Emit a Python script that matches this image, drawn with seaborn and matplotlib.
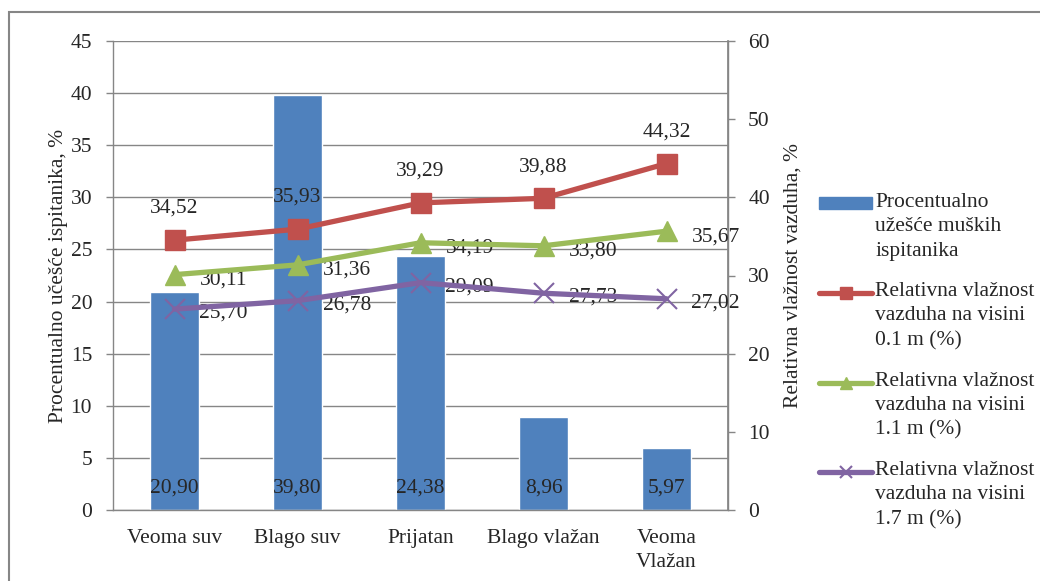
import numpy as np
import pandas as pd
import matplotlib
matplotlib.use("Agg")
import matplotlib.pyplot as plt
import seaborn as sns
from matplotlib.lines import Line2D
from matplotlib.patches import Rectangle
from matplotlib.legend_handler import HandlerLine2D, HandlerPatch
from matplotlib.transforms import Affine2D

# podaci
kategorije = ["Veoma suv", "Blago suv", "Prijatan", "Blago vlažan", "Veoma\nVlažan"]
ucesce = [20.90, 39.80, 24.38, 8.96, 5.97]
vlaz_01 = [34.52, 35.93, 39.29, 39.88, 44.32]
vlaz_11 = [30.11, 31.36, 34.19, 33.80, 35.67]
vlaz_17 = [25.70, 26.78, 29.09, 27.73, 27.02]

naziv_bar = "Procentualno\nužešće muških\nispitanika"
naziv_01 = "Relativna vlažnost\nvazduha na visini\n0.1 m (%)"
naziv_11 = "Relativna vlažnost\nvazduha na visini\n1.1 m (%)"
naziv_17 = "Relativna vlažnost\nvazduha na visini\n1.7 m (%)"

sns.set_theme(style="white")
plt.rcParams["font.family"] = ["Liberation Serif", "DejaVu Serif"]
fs = 15.5
plt.rcParams["font.size"] = fs

siva = "#868686"
plava = "#4F81BD"
crvena = "#C0504D"
zelena = "#9BBB59"
ljubicasta = "#8064A2"

# rukovaoci legende poravnati sa prvim redom teksta
POMAK = 16.6


class PomerenaLinija(HandlerLine2D):
    def create_artists(self, legend, orig_handle, xdescent, ydescent, width, height, fontsize, trans):
        t = Affine2D().translate(0, POMAK) + trans
        return super().create_artists(legend, orig_handle, xdescent, ydescent, width, height, fontsize, t)


class PomerenaPovrs(HandlerPatch):
    def create_artists(self, legend, orig_handle, xdescent, ydescent, width, height, fontsize, trans):
        t = Affine2D().translate(0, POMAK) + trans
        return super().create_artists(legend, orig_handle, xdescent, ydescent, width, height, fontsize, t)


fig = plt.figure(figsize=(10.4, 5.81), dpi=100)
ax = fig.add_axes([113 / 1040, 1 - 510 / 581, (728 - 113) / 1040, (510 - 41) / 581])

df = pd.DataFrame({"kategorija": kategorije, "ucesce": ucesce})
sns.barplot(data=df, x="kategorija", y="ucesce", color=plava, width=0.4,
            saturation=1, ax=ax, zorder=2)

ax.set_ylim(0, 45)
ax.set_yticks(np.arange(0, 46, 5))
ax.set_xlim(-0.5, 4.5)
ax.yaxis.grid(True, color=siva, linewidth=1)
ax.set_axisbelow(True)
ax.set_xlabel("")
ax.set_ylabel("Procentualno učešće ispitanika, %", fontsize=fs, labelpad=2)
ax.set_xticks(np.arange(5))
ax.set_xticklabels(kategorije, fontsize=fs, linespacing=1.3)
ax.set_xticks(np.arange(-0.5, 5, 1), minor=True)
ax.tick_params(axis="x", which="major", length=0, pad=14)
ax.tick_params(axis="x", which="minor", length=5, color=siva, width=1, direction="out")
ax.tick_params(axis="y", length=5, color=siva, width=1, direction="out", labelsize=fs,
               left=True, pad=10)
ax.spines["top"].set_visible(False)
for s in ["left", "bottom", "right"]:
    ax.spines[s].set_color(siva)
    ax.spines[s].set_linewidth(1)

for i, v in enumerate(ucesce):
    ax.annotate(f"{v:.2f}".replace(".", ","), (i, 0), xytext=(0, 16),
                textcoords="offset points", ha="center", va="center", fontsize=fs, zorder=5)

ax2 = ax.twinx()
ax2.set_ylim(0, 60)
ax2.set_yticks(np.arange(0, 61, 10))
ax2.tick_params(axis="y", length=5, color=siva, width=1, direction="out", labelsize=fs,
                right=True, pad=9.5)
for s in ["top", "left", "bottom"]:
    ax2.spines[s].set_visible(False)
ax2.spines["right"].set_color(siva)
ax2.set_ylabel("Relativna vlažnost vazduha, %", fontsize=fs, labelpad=10)

x = np.arange(len(kategorije))
ax2.plot(x, vlaz_01, color=crvena, lw=3.8, marker="s", ms=14, zorder=4)
ax2.plot(x, vlaz_11, color=zelena, lw=3.8, marker="^", ms=15, zorder=4)
ax2.plot(x, vlaz_17, color=ljubicasta, lw=3.8, marker="x", ms=14, mew=1.5, zorder=4)

for i in range(len(x)):
    ax2.annotate(f"{vlaz_01[i]:.2f}".replace(".", ","), (x[i], vlaz_01[i]), xytext=(0, 16),
                 textcoords="offset points", ha="center", va="bottom", fontsize=fs)
    ax2.annotate(f"{vlaz_11[i]:.2f}".replace(".", ","), (x[i], vlaz_11[i]), xytext=(18, -4),
                 textcoords="offset points", ha="left", va="center", fontsize=fs)
    ax2.annotate(f"{vlaz_17[i]:.2f}".replace(".", ","), (x[i], vlaz_17[i]), xytext=(18, -3),
                 textcoords="offset points", ha="left", va="center", fontsize=fs)

# legenda
rukovaoci = [
    Rectangle((0, 0), 1, 1, color=plava),
    Line2D([], [], color=crvena, lw=3.8, marker="s", ms=9),
    Line2D([], [], color=zelena, lw=3.8, marker="^", ms=9),
    Line2D([], [], color=ljubicasta, lw=3.8, marker="x", ms=9, mew=1.5),
]
leg = fig.legend(rukovaoci, [naziv_bar, naziv_01, naziv_11, naziv_17], loc="center left",
                 bbox_to_anchor=(800 / 1040, 1 - 361 / 581), frameon=False, fontsize=fs,
                 handlelength=2.45, handletextpad=0.15, labelspacing=1.0, handleheight=0.5,
                 handler_map={Line2D: PomerenaLinija(), Rectangle: PomerenaPovrs()})
for t in leg.get_texts():
    t.set_linespacing(1.38)

# okvir
fig.patches.append(Rectangle((9 / 1040, -0.1), 1.2, 1 - 12 / 581 + 0.1, transform=fig.transFigure,
                             fill=False, edgecolor=siva, lw=1.5))

fig.savefig("out.png", dpi=100)
